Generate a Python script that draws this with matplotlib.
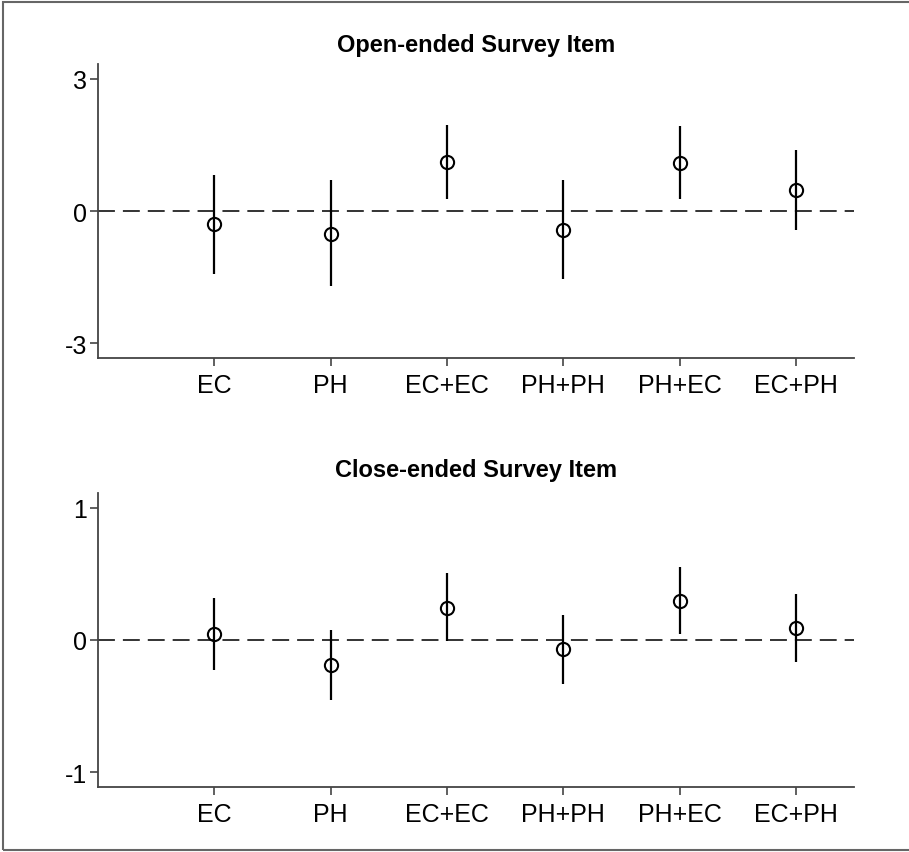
import matplotlib.pyplot as plt
from matplotlib.patches import Rectangle

plt.rcParams['font.family'] = ['Liberation Sans', 'DejaVu Sans']

categorias = ['EC', 'PH', 'EC+EC', 'PH+PH', 'PH+EC', 'EC+PH']

# open-ended item: estimate, lower CI, upper CI
abierta_est = [-0.30, -0.52, 1.11, -0.43, 1.09, 0.48]
abierta_inf = [-1.43, -1.70, 0.27, -1.55, 0.27, -0.43]
abierta_sup = [0.82, 0.70, 1.95, 0.70, 1.93, 1.39]

# close-ended item
cerrada_est = [0.045, -0.19, 0.24, -0.07, 0.295, 0.09]
cerrada_inf = [-0.23, -0.45, -0.01, -0.33, 0.045, -0.165]
cerrada_sup = [0.32, 0.075, 0.505, 0.19, 0.55, 0.35]

EJE = '#444444'


def panel(ax, titulo, est, inf, sup, ticks, lim, pad_titulo):
	x = list(range(1, len(categorias) + 1))
	ax.axhline(0, color='#333333', linewidth=1.4, dashes=(8.7, 4.1), zorder=1)
	ax.vlines(x, inf, sup, color='black', linewidth=1.6, zorder=2)
	ax.plot(x, est, linestyle='none', marker='o', markersize=9.5,
			markerfacecolor='none', markeredgecolor='black', markeredgewidth=1.5, zorder=3)

	ax.set_xlim(0, 6.5)
	ax.set_ylim(-lim, lim)
	ax.set_xticks(x)
	ax.set_xticklabels(categorias)
	ax.set_yticks(ticks)
	ax.set_yticklabels([str(t) for t in ticks])
	ax.tick_params(length=6, width=1.2, color=EJE, labelsize=18)
	ax.tick_params(axis='x', pad=5)
	ax.tick_params(axis='y', pad=2)
	for s in ['top', 'right']:
		ax.spines[s].set_visible(False)
	for s in ['left', 'bottom']:
		ax.spines[s].set_color(EJE)
		ax.spines[s].set_linewidth(1.3)
	ax.set_title(titulo, fontsize=17, fontweight='bold', pad=pad_titulo)


fig = plt.figure(figsize=(9.09, 8.53), dpi=100)
ax1 = fig.add_axes([0.1078, 0.5791, 0.8317, 0.3447])
ax2 = fig.add_axes([0.1078, 0.0762, 0.8317, 0.3447])

panel(ax1, 'Open-ended Survey Item', abierta_est, abierta_inf, abierta_sup, [-3, 0, 3], 3.34, 9)
panel(ax2, 'Close-ended Survey Item', cerrada_est, cerrada_inf, cerrada_sup, [-1, 0, 1], 1.11, 12)

fig.patches.append(Rectangle((0.0035, 0.0025), 1.2, 0.994, transform=fig.transFigure,
							 fill=False, edgecolor='#666666', linewidth=1.5))

fig.savefig('out.png', dpi=100)
